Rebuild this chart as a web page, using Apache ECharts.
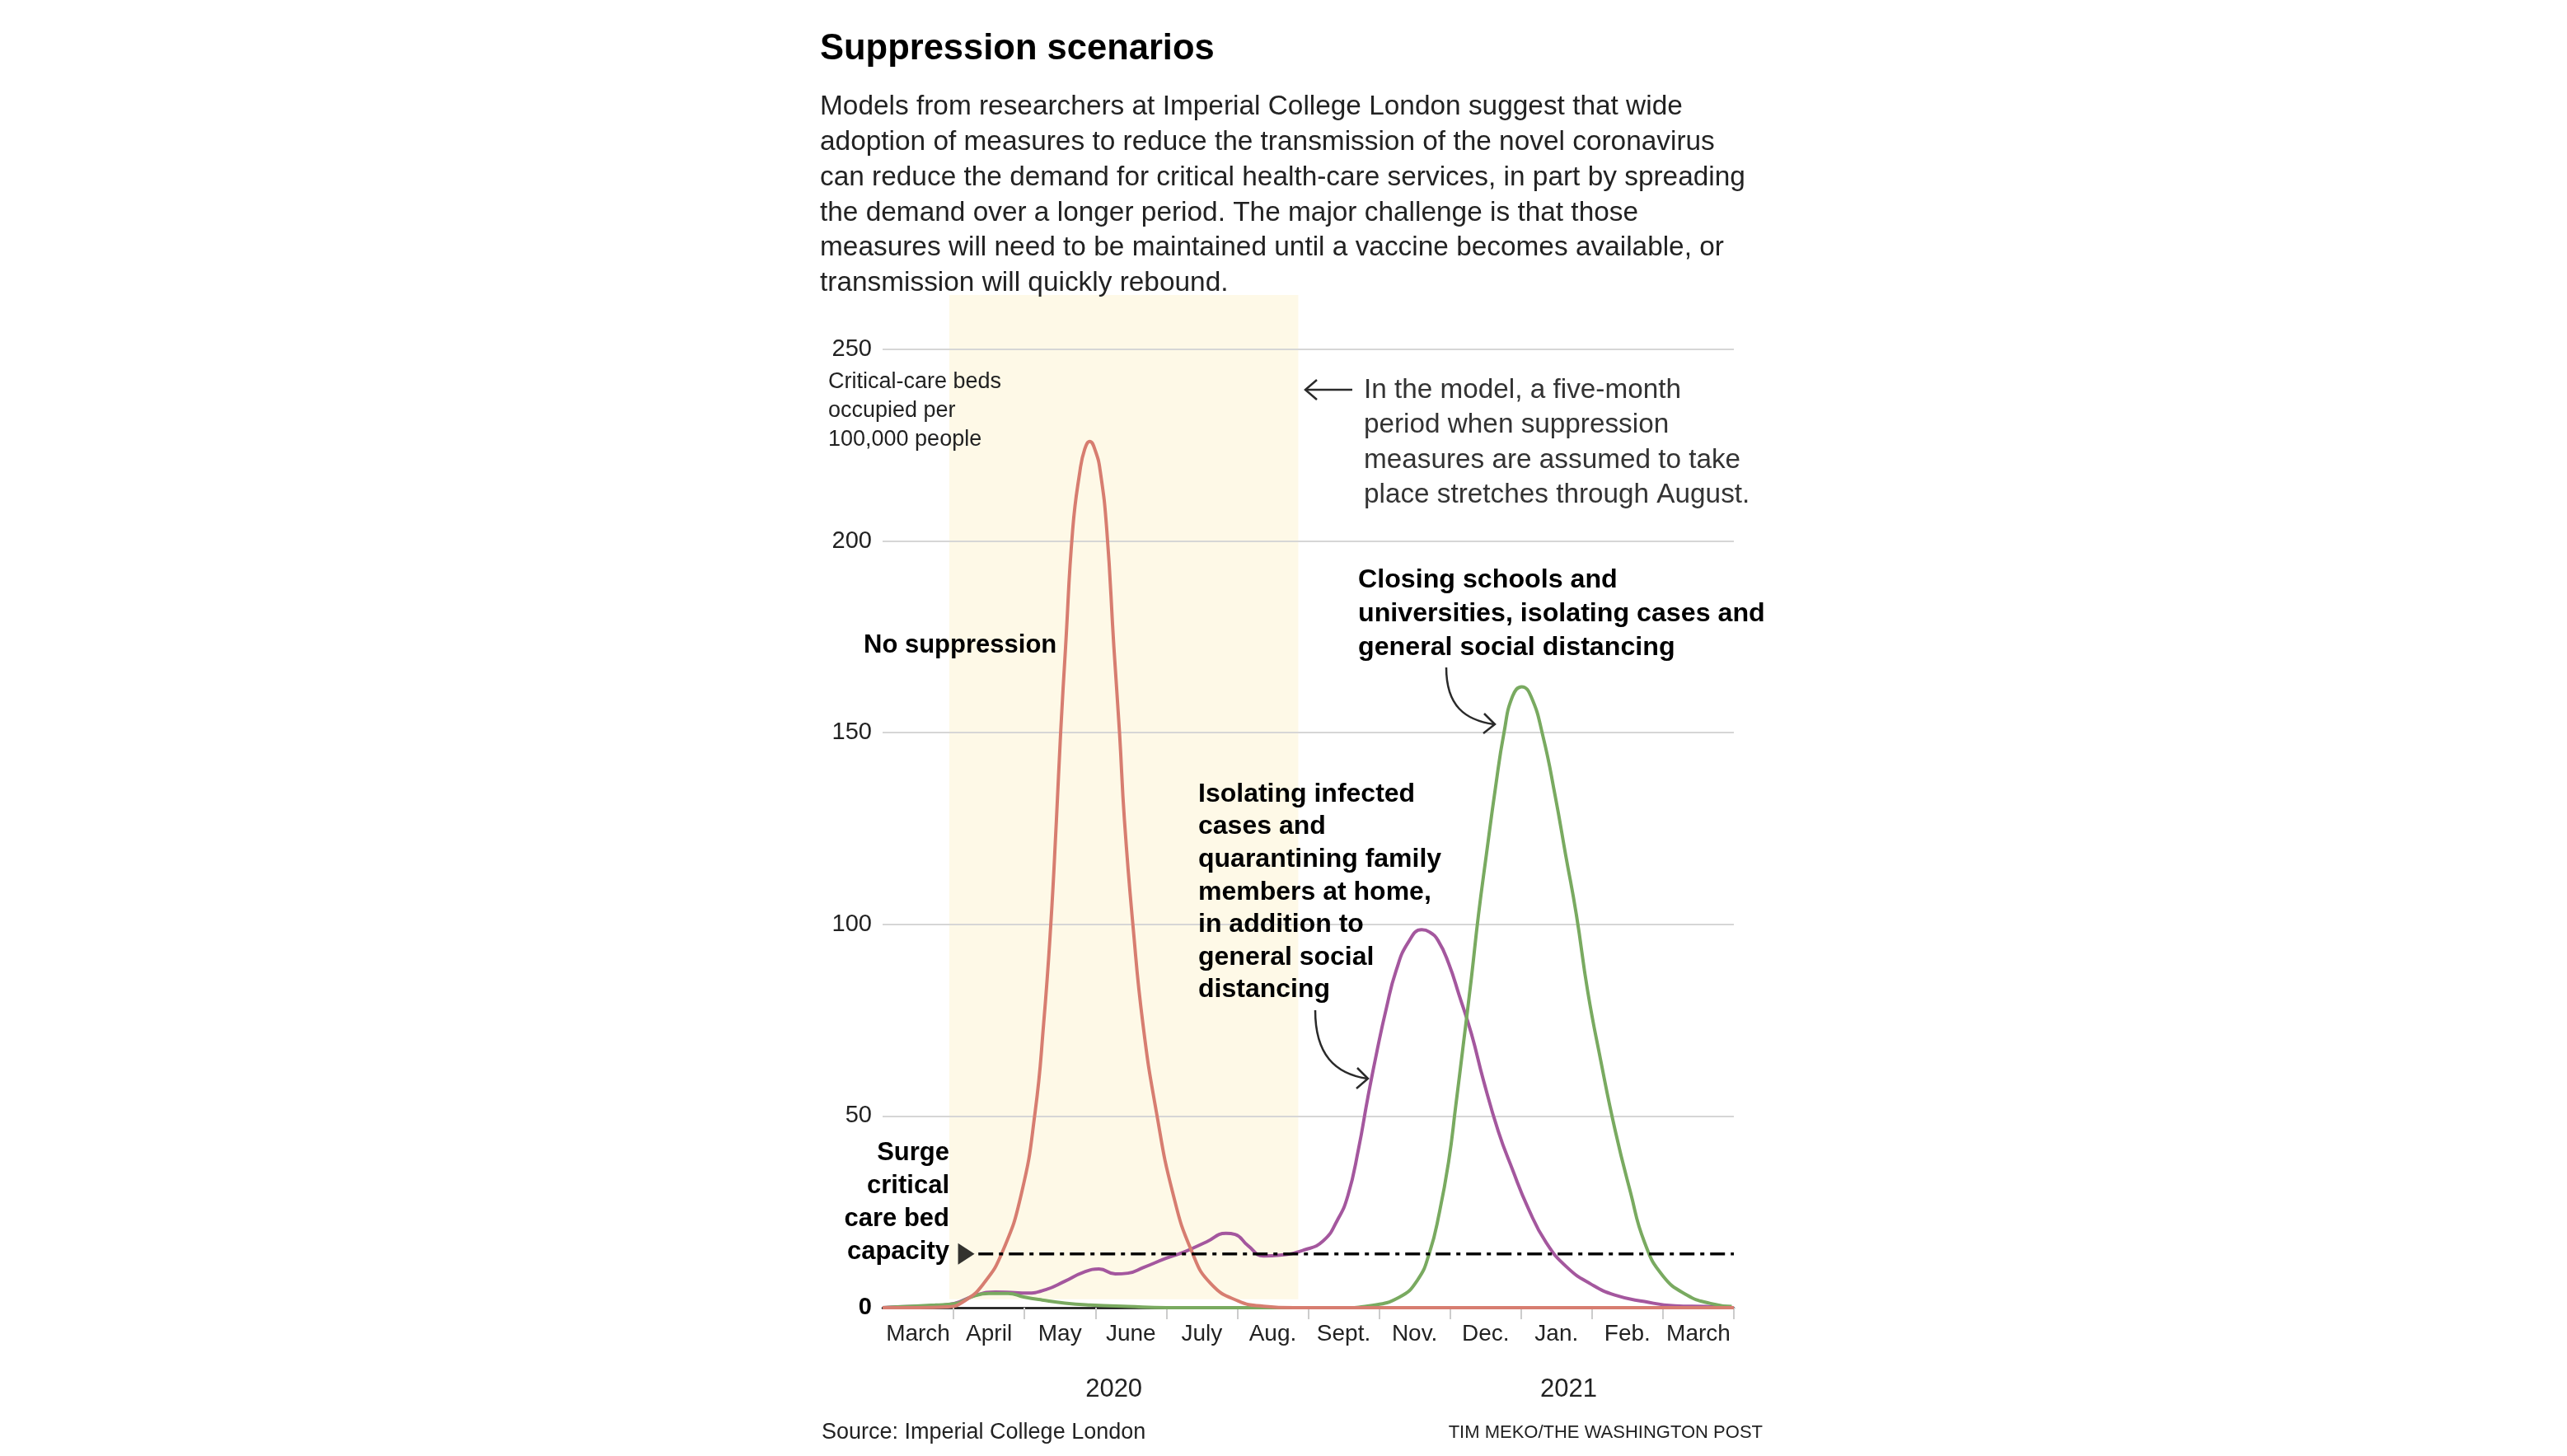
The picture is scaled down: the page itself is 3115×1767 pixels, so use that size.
<!DOCTYPE html>
<html lang="en">
<head>
<meta charset="UTF-8">
<title>Suppression scenarios</title>
<script src="https://cdn.jsdelivr.net/npm/echarts@6/dist/echarts.min.js"></script>
<style>
    html, body { margin: 0; padding: 0; background: #fff; }
    #main { width: 3115px; height: 1767px; }
</style>
</head>
<body>
<div id="main"></div>
<script>
// x values are months since March 1, 2020
var monthLabels = ['March', 'April', 'May', 'June', 'July', 'Aug.', 'Sept.', 'Nov.', 'Dec.', 'Jan.', 'Feb.', 'March'];
var yearLabels = ['2020', '2021'];

var noSuppression = [
    [0, 0], [0.5, 0], [0.92, 0.2], [1.15, 1.7], [1.42, 6.2], [1.69, 14.6], [1.96, 30], [2.15, 51],
    [2.27, 74], [2.37, 99.6], [2.45, 127], [2.51, 150], [2.58, 172.5], [2.68, 203], [2.78, 218],
    [2.85, 224], [2.92, 226], [3.0, 223.5], [3.07, 218], [3.16, 203], [3.26, 172.5], [3.34, 150],
    [3.41, 127], [3.53, 99.6], [3.67, 74], [3.86, 51], [4.09, 30], [4.36, 14.6], [4.63, 6.2],
    [5.02, 1.7], [5.37, 0.4], [5.8, 0], [12, 0]
];
var isolatingCases = [
    [0, 0], [0.21, 0.2], [0.79, 0.6], [1.01, 1.1], [1.32, 3.3], [1.59, 4.1], [1.81, 4.0], [2.03, 3.8],
    [2.30, 4.7], [2.57, 6.9], [2.83, 9.2], [3.05, 10.1], [3.28, 8.8], [3.46, 9.0], [3.68, 10.5],
    [4.0, 12.9], [4.26, 14.6], [4.57, 17.2], [4.84, 19.4], [4.97, 19.1], [5.15, 16.2], [5.37, 13.5],
    [5.6, 13.7], [5.95, 15.1], [6.21, 17.4], [6.41, 22.8], [6.56, 29.3], [6.71, 41.5], [6.84, 54.8],
    [6.97, 67], [7.1, 78], [7.24, 88], [7.41, 95.3], [7.6, 98.6], [7.71, 98], [7.83, 95.8],
    [7.98, 89.8], [8.13, 81.4], [8.3, 71.5], [8.47, 59.3], [8.68, 46], [8.88, 36], [9.1, 26],
    [9.35, 17.1], [9.65, 10.5], [9.99, 6.1], [10.32, 3.3], [10.74, 1.6], [11.17, 0.5], [11.6, 0.3],
    [12, 0]
];
var closingSchools = [
    [0, 0], [0.21, 0.2], [0.74, 0.7], [1.01, 1.0], [1.28, 3.0], [1.5, 3.7], [1.77, 3.7], [1.99, 2.8],
    [2.25, 2.0], [2.57, 1.2], [2.93, 0.7], [3.46, 0.3], [4, 0], [6.5, 0], [6.86, 0.5], [7.28, 2.7],
    [7.54, 7.2], [7.71, 14.4], [7.85, 24.9], [7.98, 38.2], [8.08, 52.7], [8.19, 69.2], [8.3, 86],
    [8.4, 102.5], [8.51, 118], [8.64, 135.7], [8.76, 150], [8.88, 159.5], [9.01, 162], [9.14, 159.5],
    [9.31, 149], [9.48, 133.6], [9.63, 118], [9.78, 102.5], [9.94, 82.5], [10.12, 64.8], [10.33, 46],
    [10.54, 30.3], [10.74, 17.1], [11.0, 8.3], [11.34, 3.3], [11.67, 1.1], [11.97, 0.3]
];
var surgeCapacity = 14;
var surgeLine = [[1.35, surgeCapacity], [12, surgeCapacity]];
var surgeMarker = [[1.18, surgeCapacity]];
var suppressionPeriod = [0.94, 5.86];   // April through August
var yearCenters = [3.26, 9.67];

var introLines = [
    'Models from researchers at Imperial College London suggest that wide',
    'adoption of measures to reduce the transmission of the novel coronavirus',
    'can reduce the demand for critical health-care services, in part by spreading',
    'the demand over a longer period. The major challenge is that those',
    'measures will need to be maintained until a vaccine becomes available, or',
    'transmission will quickly rebound.'
];
var unitLines = ['Critical-care beds', 'occupied per', '100,000 people'];
var periodLines = ['In the model, a five-month', 'period when suppression', 'measures are assumed to take', 'place stretches through August.'];
var closingLines = ['Closing schools and', 'universities, isolating cases and', 'general social distancing'];
var isolatingLines = ['Isolating infected', 'cases and', 'quarantining family', 'members at home,', 'in addition to', 'general social', 'distancing'];
var surgeLines = ['Surge', 'critical', 'care bed', 'capacity'];

var RED = '#d77d70', PURPLE = '#a4579e', GREEN = '#79aa60', INK = '#222';
var FONT = "'Liberation Sans', Arial, sans-serif";

var myChart = echarts.init(document.getElementById('main'));

function lineSeries(name, data, color) {
    return {
        name: name, type: 'line', xAxisIndex: 1, data: data,
        showSymbol: false, smooth: 0.5, silent: true,
        lineStyle: { color: color, width: 4 }, itemStyle: { color: color }
    };
}

myChart.setOption({
    animation: false,
    backgroundColor: '#fff',
    textStyle: { fontFamily: FONT },
    grid: { left: 1071, right: 1011, top: 424, bottom: 180 },
    xAxis: [{
        type: 'category',
        data: monthLabels,
        boundaryGap: true,
        axisLine: { lineStyle: { color: '#111', width: 2.5 } },
        axisTick: { show: true, length: 14, interval: function (i) { return i !== 0; }, lineStyle: { color: '#ccc', width: 2 } },
        axisLabel: { interval: 0, fontSize: 28, color: INK, margin: 18 },
        splitLine: { show: false }
    }, {
        type: 'value', min: 0, max: 12, show: false
    }],
    yAxis: {
        type: 'value', min: 0, max: 250, interval: 50,
        axisLine: { show: false },
        axisTick: { show: false },
        axisLabel: {
            fontSize: 29, color: INK, margin: 13,
            formatter: function (v) { return v === 0 ? '{b|0}' : String(v); },
            rich: { b: { fontSize: 29, fontWeight: 'bold', color: '#000' } }
        },
        splitLine: { lineStyle: { color: '#d6d6d6', width: 2 } }
    },
    series: [
        lineSeries('Isolating infected cases', isolatingCases, PURPLE),
        lineSeries('Closing schools', closingSchools, GREEN),
        lineSeries('No suppression', noSuppression, RED),
        {
            name: 'Surge capacity', type: 'line', xAxisIndex: 1, data: surgeLine,
            showSymbol: false, silent: true,
            lineStyle: { color: '#000', width: 3.5, type: [18, 7, 5, 7] }
        },
        {
            type: 'scatter', xAxisIndex: 1, data: surgeMarker, silent: true,
            symbol: 'triangle', symbolRotate: -90, symbolSize: [26, 20],
            itemStyle: { color: '#000' }
        }
    ]
});

// annotations and the shaded suppression period
function txt(x, y, s, font, color, align) {
    return {
        type: 'text', z: 50, silent: true,
        style: {
            x: x, y: y, text: s, font: font, fill: color,
            align: align || 'left', verticalAlign: 'middle',
            textAlign: align || 'left', textVerticalAlign: 'middle'
        }
    };
}
function stroke(el) {
    el.z = 50; el.silent = true;
    el.style = { stroke: '#2a2a2a', lineWidth: 2.5, fill: 'none' };
    return el;
}

var g = [];

var bx0 = myChart.convertToPixel({ xAxisIndex: 1 }, suppressionPeriod[0]);
var bx1 = myChart.convertToPixel({ xAxisIndex: 1 }, suppressionPeriod[1]);
var by1 = myChart.convertToPixel({ yAxisIndex: 0 }, 2.2);
g.push({ type: 'rect', z: -100, silent: true, shape: { x: bx0, y: 358, width: bx1 - bx0, height: by1 - 358 }, style: { fill: '#fef9e7' } });

g.push(txt(995, 60, 'Suppression scenarios', 'bold 43.5px ' + FONT, '#000'));
introLines.forEach(function (s, i) { g.push(txt(995, 130 + i * 42.8, s, '33.4px ' + FONT, INK)); });
unitLines.forEach(function (s, i) { g.push(txt(1005, 464 + i * 35, s, '27px ' + FONT, INK)); });
g.push(txt(1048, 783, 'No suppression', 'bold 31px ' + FONT, '#000'));
periodLines.forEach(function (s, i) { g.push(txt(1655, 474 + i * 42.3, s, '33.3px ' + FONT, '#333')); });
closingLines.forEach(function (s, i) { g.push(txt(1648, 704 + i * 41, s, 'bold 32.2px ' + FONT, '#000')); });
isolatingLines.forEach(function (s, i) { g.push(txt(1454, 964 + i * 39.6, s, 'bold 32px ' + FONT, '#000')); });
surgeLines.forEach(function (s, i) { g.push(txt(1152, 1399 + i * 40, s, 'bold 31px ' + FONT, '#000', 'right')); });

yearLabels.forEach(function (s, i) {
    var x = myChart.convertToPixel({ xAxisIndex: 1 }, yearCenters[i]);
    g.push(txt(x, 1686, s, '31px ' + FONT, INK, 'center'));
});
g.push(txt(997, 1739, 'Source: Imperial College London', '27px ' + FONT, INK));
g.push(txt(2139, 1739, 'TIM MEKO/THE WASHINGTON POST', '22px ' + FONT, INK, 'right'));

// straight arrow pointing at the shaded period
g.push(stroke({ type: 'line', shape: { x1: 1641, y1: 473, x2: 1584, y2: 473 } }));
g.push(stroke({ type: 'polyline', shape: { points: [[1598, 461], [1584, 473], [1598, 485]] } }));
// curved arrow to the isolating-cases curve
g.push(stroke({ type: 'bezierCurve', shape: { x1: 1596, y1: 1226, cpx1: 1596, cpy1: 1280, cpx2: 1620, cpy2: 1303, x2: 1659, y2: 1309 } }));
g.push(stroke({ type: 'polyline', shape: { points: [[1647, 1296], [1660, 1309], [1646, 1321]] } }));
// curved arrow to the school-closing curve
g.push(stroke({ type: 'bezierCurve', shape: { x1: 1755, y1: 810, cpx1: 1755, cpy1: 857, cpx2: 1778, cpy2: 874, x2: 1813, y2: 879 } }));
g.push(stroke({ type: 'polyline', shape: { points: [[1801, 866], [1814, 879], [1800, 890]] } }));

myChart.setOption({ graphic: g });
</script>
</body>
</html>
